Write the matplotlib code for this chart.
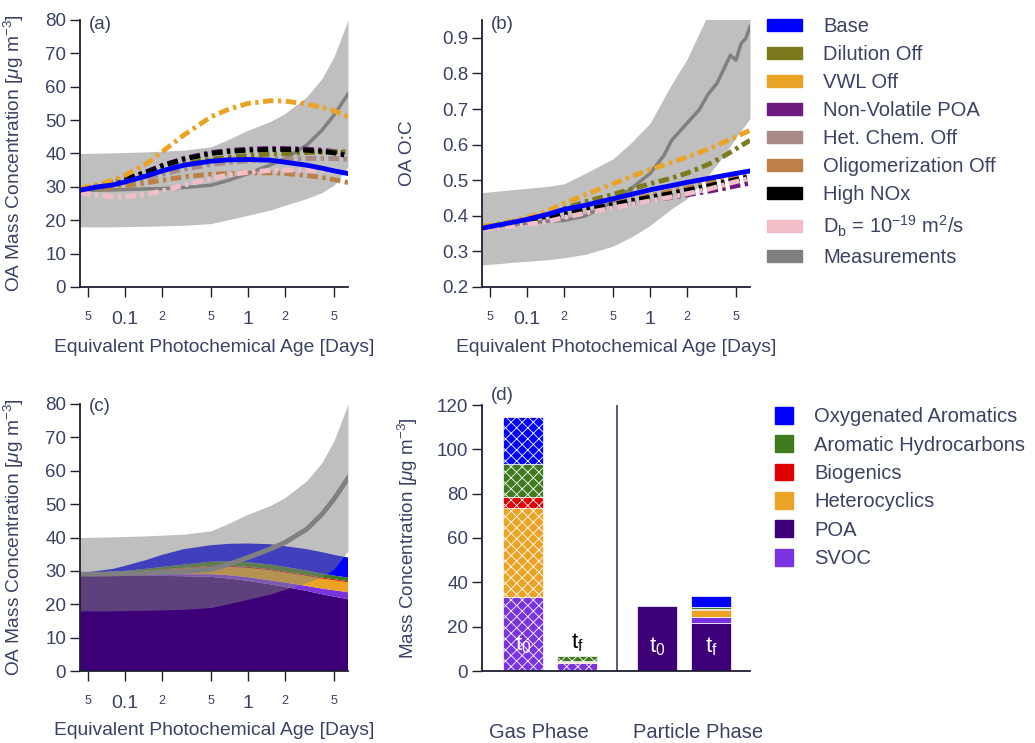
import matplotlib
matplotlib.use("Agg")
import matplotlib.pyplot as plt
from matplotlib.patches import Patch
from matplotlib.ticker import NullLocator


# photochemical age grid [days] shared by the model runs
AGE = [0.043, 0.06, 0.08, 0.1, 0.15, 0.2, 0.3, 0.5, 0.7, 1.0, 1.5, 2.0, 3.0, 4.0, 5.0, 6.5]

# --- panel (a): OA mass [ug m-3]
MEAS_OA = [29.0, 29.0, 29.1, 29.2, 29.4, 29.5, 29.8, 30.5, 32.0, 34.0, 36.5, 38.5, 42.5, 47.0, 51.5, 57.8]
MEAS_OA_LO = [18.0, 18.0, 18.0, 18.1, 18.2, 18.3, 18.5, 19.0, 20.2, 21.5, 23.0, 24.5, 26.5, 28.3, 30.5, 36.0]
MEAS_OA_HI = [40.0, 40.1, 40.2, 40.3, 40.5, 40.7, 41.0, 42.0, 44.3, 47.0, 49.5, 52.0, 57.0, 62.5, 69.0, 80.0]

OA_BASE = [29.0, 30.0, 30.6, 31.5, 33.3, 34.8, 36.5, 37.7, 38.1, 38.2, 38.0, 37.4, 36.5, 35.6, 34.8, 34.0]
OA_DILUTION = [29.0, 30.0, 30.6, 31.5, 33.3, 34.9, 36.8, 38.3, 38.9, 39.4, 39.8, 40.0, 40.3, 40.4, 40.5, 40.5]
OA_VWL = [29.5, 30.8, 32.0, 33.5, 37.0, 40.5, 45.5, 51.0, 53.3, 55.0, 55.8, 55.7, 54.8, 53.8, 52.8, 51.0]
OA_NONVOL = [29.3, 30.3, 31.3, 32.3, 34.5, 36.4, 38.5, 40.3, 40.9, 41.3, 41.5, 41.5, 41.3, 41.0, 40.6, 40.0]
OA_HETCHEM = [29.0, 29.8, 30.3, 31.0, 32.5, 33.8, 35.3, 36.7, 37.3, 37.8, 38.2, 38.4, 38.5, 38.5, 38.5, 38.3]
OA_OLIGO = [29.0, 29.5, 29.8, 30.2, 31.2, 32.0, 33.0, 33.8, 34.0, 34.2, 34.2, 34.0, 33.4, 32.8, 32.2, 31.3]
OA_HIGHNOX = [29.3, 30.3, 31.3, 32.3, 34.5, 36.3, 38.3, 40.0, 40.6, 41.0, 41.2, 41.2, 41.0, 40.6, 40.2, 39.3]
OA_DB = [28.3, 27.5, 27.0, 27.0, 27.8, 28.8, 30.5, 32.5, 33.6, 34.4, 34.9, 35.0, 35.0, 34.9, 34.7, 34.5]

# --- panel (b): O:C
MEAS_OC_AGE = [0.043, 0.06, 0.08, 0.1, 0.15, 0.2, 0.3, 0.5, 0.7, 1.0, 1.3, 1.5, 2.0, 2.5, 3.0,
               3.5, 4.0, 4.5, 5.0, 5.5, 6.0, 6.5]
MEAS_OC = [0.369, 0.372, 0.376, 0.38, 0.385, 0.387, 0.40, 0.44, 0.476, 0.519, 0.57, 0.612, 0.66,
           0.697, 0.744, 0.772, 0.814, 0.851, 0.837, 0.884, 0.898, 0.931]
MEAS_OC_LO = [0.262, 0.266, 0.27, 0.272, 0.277, 0.282, 0.292, 0.315, 0.34, 0.373, 0.42, 0.448, 0.515, 0.57, 0.62, 0.673]
MEAS_OC_HI = [0.465, 0.47, 0.474, 0.477, 0.483, 0.49, 0.52, 0.56, 0.605, 0.66, 0.77, 0.84, 0.97, 1.05, 1.1, 1.2]

OC_BASE = [0.365, 0.375, 0.383, 0.39, 0.405, 0.418, 0.43, 0.448, 0.46, 0.473, 0.485, 0.494, 0.505, 0.513, 0.519, 0.526]
OC_DILUTION = [0.368, 0.375, 0.382, 0.39, 0.405, 0.42, 0.44, 0.46, 0.475, 0.49, 0.506, 0.52, 0.545, 0.568, 0.588, 0.612]
OC_VWL = [0.37, 0.378, 0.387, 0.395, 0.415, 0.435, 0.46, 0.49, 0.51, 0.53, 0.55, 0.565, 0.588, 0.607, 0.622, 0.64]
OC_NONVOL = [0.365, 0.37, 0.376, 0.38, 0.39, 0.40, 0.412, 0.425, 0.434, 0.443, 0.452, 0.459, 0.469, 0.477, 0.484, 0.492]
OC_HETCHEM = [0.365, 0.371, 0.377, 0.382, 0.393, 0.403, 0.416, 0.43, 0.44, 0.45, 0.461, 0.47, 0.482, 0.492, 0.50, 0.508]
OC_OLIGO = [0.365, 0.372, 0.378, 0.384, 0.396, 0.407, 0.42, 0.435, 0.446, 0.457, 0.469, 0.478, 0.492, 0.503, 0.512, 0.522]
OC_HIGHNOX = [0.365, 0.372, 0.378, 0.383, 0.395, 0.405, 0.418, 0.432, 0.442, 0.452, 0.463, 0.472, 0.484, 0.494, 0.502, 0.51]
OC_DB = [0.362, 0.367, 0.372, 0.376, 0.385, 0.395, 0.408, 0.422, 0.432, 0.442, 0.453, 0.462, 0.475, 0.487, 0.496, 0.506]

# --- panel (c): base-case OA split by precursor class [ug m-3]
C_POA = [28.5, 28.5, 28.5, 28.5, 28.5, 28.5, 28.4, 28.2, 27.7, 27.0, 26.0, 25.2, 24.0, 23.0, 22.3, 21.5]
C_SVOC = [0.4, 0.4, 0.4, 0.4, 0.5, 0.5, 0.6, 0.8, 1.0, 1.1, 1.2, 1.3, 1.5, 1.7, 1.9, 2.1]
C_HETERO = [0.3, 0.4, 0.5, 0.6, 0.9, 1.2, 1.7, 2.2, 2.5, 2.8, 3.0, 3.0, 3.0, 3.0, 3.0, 3.0]
C_BIO = [0.0, 0.05, 0.1, 0.1, 0.15, 0.2, 0.2, 0.25, 0.3, 0.3, 0.3, 0.3, 0.3, 0.3, 0.3, 0.3]
C_AROM = [0.1, 0.2, 0.3, 0.4, 0.6, 0.8, 1.0, 1.3, 1.4, 1.4, 1.4, 1.4, 1.3, 1.2, 1.1, 1.1]
C_OXY = [0.0, 0.45, 0.8, 1.5, 2.65, 3.6, 4.6, 4.95, 5.2, 5.6, 6.1, 6.2, 6.4, 6.4, 6.2, 6.0]

# --- panel (d): stacked masses, order POA, SVOC, Hetero, Bio, Arom HC, Oxy arom
GAS_T0 = [0.0, 33.4, 40.0, 5.1, 14.9, 21.2]
GAS_TF = [0.0, 3.4, 0.8, 0.3, 2.3, 0.0]
PART_T0 = [29.3, 0.0, 0.0, 0.0, 0.0, 0.0]
PART_TF = [21.5, 2.7, 3.3, 0.3, 0.9, 5.1]

AGE_TICKS = [0.05, 0.1, 0.2, 0.5, 1, 2, 5]
AGE_TICK_LABELS = ["5", "0.1", "2", "5", "1", "2", "5"]


TEXT_COLOR = "#3b4263"
AXIS_COLOR = "#1e2030"
GREY = "#808080"
LABEL_FS = 13.8

plt.rcParams["font.family"] = ["Liberation Sans", "DejaVu Sans"]
plt.rcParams["mathtext.fontset"] = "custom"
plt.rcParams["mathtext.rm"] = "Liberation Sans"
plt.rcParams["mathtext.it"] = "Liberation Sans:italic"
plt.rcParams["mathtext.bf"] = "Liberation Sans:bold"
plt.rcParams["hatch.linewidth"] = 0.6

runs = [
    # label, color, oa, oc
    ("Base", "#0000ff", OA_BASE, OC_BASE),
    ("Dilution Off", "#7b7b1b", OA_DILUTION, OC_DILUTION),
    ("VWL Off", "#eba325", OA_VWL, OC_VWL),
    ("Non-Volatile POA", "#6e1a80", OA_NONVOL, OC_NONVOL),
    ("Het. Chem. Off", "#a88a86", OA_HETCHEM, OC_HETCHEM),
    ("Oligomerization Off", "#bc8048", OA_OLIGO, OC_OLIGO),
    ("High NOx", "#000000", OA_HIGHNOX, OC_HIGHNOX),
    ("D$_\\mathrm{b}$ = 10$^{-19}$ m$^2$/s", "#f2bfc8", OA_DB, OC_DB),
]
draw_order = [3, 4, 5, 1, 6, 7, 2, 0]

classes = ["POA", "SVOC", "Heterocyclics", "Biogenics", "Aromatic Hydrocarbons", "Oxygenated Aromatics"]
class_colors = ["#3d0078", "#7b33e0", "#eba325", "#e00000", "#3f7a1f", "#0000ff"]

FW, FH = 1035, 743
fig = plt.figure(figsize=(FW / 100, FH / 100), dpi=100)


def px_axes(left, top, right, bottom):
    return fig.add_axes([left / FW, 1 - bottom / FH, (right - left) / FW, (bottom - top) / FH])


def style(ax):
    for s in ["top", "right"]:
        ax.spines[s].set_visible(False)
    for s in ["left", "bottom"]:
        ax.spines[s].set_color(AXIS_COLOR)
        ax.spines[s].set_linewidth(1.3)
    ax.tick_params(direction="out", length=7, width=1, color=AXIS_COLOR,
                   labelcolor=TEXT_COLOR, labelsize=13.5, pad=3)


def age_axis(ax):
    ax.set_xscale("log")
    ax.set_xlim(AGE[0], AGE[-1])
    ax.set_xticks(AGE_TICKS)
    ax.set_xticklabels(AGE_TICK_LABELS)
    ax.xaxis.set_minor_locator(NullLocator())
    ax.tick_params(axis="x", pad=10)
    for lab, txt in zip(ax.get_xticklabels(), AGE_TICK_LABELS):
        lab.set_fontsize(14 if txt in ("0.1", "1") else 9)
    ax.set_xlabel("Equivalent Photochemical Age [Days]", fontsize=13.9, color=TEXT_COLOR)
    ax.xaxis.set_label_coords(0.5, -0.195)


def panel_tag(ax, txt, y=0.985):
    ax.text(0.032, y, txt, transform=ax.transAxes, fontsize=13.5, color=TEXT_COLOR,
            ha="left", va="center")


dashdot = (0, (2.2, 0.9, 0.7, 0.9))

# (a)
ax_a = px_axes(80, 20, 348, 287)
style(ax_a)
age_axis(ax_a)
ax_a.fill_between(AGE, MEAS_OA_LO, MEAS_OA_HI, color=GREY, alpha=0.5, lw=0)
ax_a.plot(AGE, MEAS_OA, color=GREY, lw=2.5)
for i in draw_order:
    label, color, oa, oc = runs[i]
    ls = "-" if i == 0 else dashdot
    ax_a.plot(AGE, oa, color=color, lw=3.5, ls=ls)
ax_a.set_ylim(0, 80)
ax_a.set_yticks(range(0, 81, 10))
ax_a.set_ylabel("OA Mass Concentration [$\\mu$g m$^{-3}$]", fontsize=LABEL_FS, color=TEXT_COLOR)
ax_a.yaxis.set_label_coords(-0.2, 0.5)
panel_tag(ax_a, "(a)")

# (b)
ax_b = px_axes(482, 20, 750, 287)
style(ax_b)
age_axis(ax_b)
ax_b.fill_between(AGE, MEAS_OC_LO, MEAS_OC_HI, color=GREY, alpha=0.5, lw=0)
ax_b.plot(MEAS_OC_AGE, MEAS_OC, color=GREY, lw=2.5)
for i in draw_order:
    label, color, oa, oc = runs[i]
    ls = "-" if i == 0 else dashdot
    ax_b.plot(AGE, oc, color=color, lw=3.5, ls=ls)
ax_b.set_ylim(0.2, 0.95)
ax_b.set_yticks([0.2, 0.3, 0.4, 0.5, 0.6, 0.7, 0.8, 0.9])
ax_b.set_yticklabels(["0.2", "0.3", "0.4", "0.5", "0.6", "0.7", "0.8", "0.9"])
ax_b.set_ylabel("OA O:C", fontsize=LABEL_FS, color=TEXT_COLOR)
ax_b.yaxis.set_label_coords(-0.245, 0.5)
panel_tag(ax_b, "(b)")

run_handles = [Patch(color=c, label=l) for l, c, _, _ in runs]
run_handles.append(Patch(color=GREY, label="Measurements"))
fig.legend(handles=run_handles, loc="upper left", bbox_to_anchor=(767 / FW, 1 - 17 / FH),
           frameon=False, fontsize=14.5, labelcolor=TEXT_COLOR, borderpad=0, borderaxespad=0,
           handlelength=1.74, handleheight=0.53, handletextpad=1.05, labelspacing=0.45)

# (c)
ax_c = px_axes(80, 404, 348, 671)
style(ax_c)
age_axis(ax_c)
ax_c.xaxis.set_label_coords(0.5, -0.19)
ax_c.stackplot(AGE, C_POA, C_SVOC, C_HETERO, C_BIO, C_AROM, C_OXY, colors=class_colors, lw=0)
ax_c.fill_between(AGE, MEAS_OA_LO, MEAS_OA_HI, color=GREY, alpha=0.5, lw=0)
ax_c.plot(AGE, MEAS_OA, color=GREY, lw=3.5)
ax_c.set_ylim(0, 80)
ax_c.set_yticks(range(0, 81, 10))
ax_c.set_ylabel("OA Mass Concentration [$\\mu$g m$^{-3}$]", fontsize=LABEL_FS, color=TEXT_COLOR)
ax_c.yaxis.set_label_coords(-0.2, 0.5)
panel_tag(ax_c, "(c)", y=0.99)

# (d)
ax_d = px_axes(482, 405, 750, 671)
style(ax_d)
ax_d.set_xlim(0, 6.7)
ax_d.set_ylim(0, 120)
ax_d.set_yticks(range(0, 121, 20))
ax_d.set_xticks([])
bars = [(1.025, GAS_T0, True), (2.375, GAS_TF, True), (4.375, PART_T0, False), (5.725, PART_TF, False)]
for xc, vals, hatched in bars:
    bottom = 0.0
    for v, c in zip(vals, class_colors):
        if v > 0:
            ax_d.bar(xc, v, width=1.0, bottom=bottom, color=c, edgecolor="white",
                     linewidth=0.5, hatch="xxx" if hatched else None)
        bottom += v
ax_d.axvline(3.375, color=TEXT_COLOR, lw=1.2)
tkw = dict(fontsize=16, ha="center", va="center")
ax_d.text(1.025, 11.7, "t$_0$", color="white", **tkw)
ax_d.text(2.375, 12.6, "t$_\\mathrm{f}$", color="black", **tkw)
ax_d.text(4.375, 10.8, "t$_0$", color="white", **tkw)
ax_d.text(5.725, 10.8, "t$_\\mathrm{f}$", color="white", **tkw)
ax_d.text(1.41, -0.233, "Gas Phase", transform=ax_d.get_xaxis_transform(), fontsize=14.5,
          color=TEXT_COLOR, ha="center", va="center")
ax_d.text(5.4, -0.233, "Particle Phase", transform=ax_d.get_xaxis_transform(), fontsize=14.5,
          color=TEXT_COLOR, ha="center", va="center")
ax_d.set_ylabel("Mass Concentration [$\\mu$g m$^{-3}$]", fontsize=13.6, color=TEXT_COLOR)
ax_d.yaxis.set_label_coords(-0.23, 0.5)
panel_tag(ax_d, "(d)", y=1.035)

class_handles = [Patch(color=c, label=l) for l, c in zip(classes, class_colors)]
legend_order = [5, 4, 3, 2, 0, 1]
fig.legend(handles=[class_handles[i] for i in legend_order], loc="upper left",
           bbox_to_anchor=(775 / FW, 1 - 407 / FH), frameon=False, fontsize=14.5,
           labelcolor=TEXT_COLOR, borderpad=0, borderaxespad=0, handlelength=0.9,
           handleheight=0.9, handletextpad=1.05, labelspacing=0.45)

fig.savefig("out.png", dpi=100)
